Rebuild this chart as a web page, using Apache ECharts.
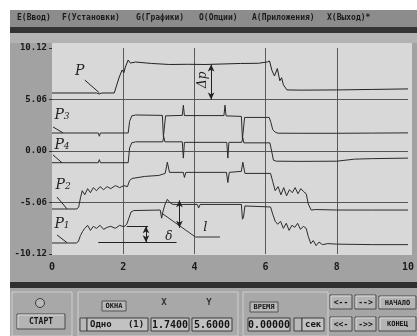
<!DOCTYPE html>
<html>
<head>
<meta charset="utf-8">
<script src="https://cdn.jsdelivr.net/npm/echarts@6/dist/echarts.min.js"></script>
<style>
html,body{margin:0;padding:0;background:#fff;}
#c{width:417px;height:336px;}
</style>
</head>
<body>
<div id="c"></div>
<script>
// Tick labels
const xTickLabels = ['0', '2', '4', '6', '8', '10'];
const yTickLabels = ['-10.12', '-5.06', '0.00', '5.06', '10.12'];

// P — line pressure (time, value)
const pTime  = [0, 1.25, 1.33, 1.4, 1.75, 1.82, 1.89, 1.94, 1.97, 2.02, 2.06, 2.1, 2.14, 2.2, 2.35, 2.8, 3.3, 3.8, 4.3, 4.8, 5.3, 5.8, 6.05, 6.11, 6.18, 6.25, 6.33, 6.4, 6.45, 6.5, 6.6, 7.0, 8.0, 9.0, 10];
const pValue = [5.70, 5.70, 5.60, 5.70, 5.70, 6.50, 7.27, 7.10, 7.96, 7.70, 8.25, 8.10, 8.94, 8.64, 8.74, 8.60, 8.50, 8.52, 8.50, 8.55, 8.60, 8.62, 8.75, 8.85, 7.90, 7.37, 8.10, 6.90, 7.20, 6.50, 6.00, 5.98, 6.00, 6.05, 6.10];

// P3
const p3Time  = [0, 1.30, 1.33, 1.36, 2.14, 2.18, 2.24, 2.35, 3.10, 3.13, 3.16, 3.19, 3.66, 3.69, 3.72, 4.83, 4.86, 4.89, 5.32, 5.35, 5.38, 5.41, 6.10, 6.15, 6.20, 6.27, 6.35, 7.0, 8.0, 9.0, 10];
const p3Value = [1.77, 1.77, 1.45, 1.77, 1.77, 2.9, 3.45, 3.54, 3.50, 1.40, 1.40, 3.45, 3.50, 4.50, 3.48, 3.48, 4.50, 3.45, 3.40, 1.20, 1.20, 3.30, 3.30, 2.80, 2.10, 1.85, 1.75, 1.74, 1.74, 1.76, 1.78];

// P4
const p4Time  = [0, 1.30, 1.33, 1.36, 2.14, 2.18, 2.24, 2.35, 3.11, 3.14, 3.17, 3.66, 3.69, 3.72, 4.91, 4.94, 4.97, 5.33, 5.36, 5.39, 6.12, 6.17, 6.22, 6.30, 7.0, 8.0, 8.5, 9.0, 10];
const p4Value = [-1.15, -1.15, -0.85, -1.15, -1.15, 0.3, 0.8, 0.9, 0.9, 1.4, 0.9, 0.9, -0.7, 0.85, 0.85, -0.7, 0.85, 0.85, 1.3, 0.8, 0.8, 0.0, -0.9, -1.0, -1.02, -1.0, -0.8, -0.75, -0.7];

// P2
const p2Time  = [0, 0.70, 0.75, 0.80, 0.85, 0.92, 1.00, 1.08, 1.16, 1.25, 1.35, 1.45, 1.55, 1.65, 1.78, 1.90, 2.02, 2.12, 2.18, 2.25, 2.6, 3.0, 3.18, 3.24, 3.30, 3.69, 3.72, 3.76, 4.90, 4.94, 4.98, 5.32, 5.36, 5.42, 6.14, 6.20, 6.27, 6.35, 6.43, 6.51, 6.59, 6.67, 6.75, 6.83, 6.91, 6.99, 7.07, 7.14, 7.20, 7.28, 7.40, 8.0, 9.0, 10];
const p2Value = [-5.7, -5.7, -5.5, -4.6, -3.9, -4.3, -3.7, -4.1, -3.6, -3.9, -3.5, -3.8, -3.5, -3.7, -3.4, -3.6, -3.4, -3.5, -2.9, -2.7, -2.5, -2.4, -2.2, -1.1, -2.1, -2.1, -2.6, -2.1, -2.1, -3.1, -2.1, -2.0, -1.1, -2.2, -2.2, -3.0, -3.9, -3.5, -4.3, -3.6, -4.4, -3.8, -4.1, -3.6, -4.2, -3.7, -4.0, -4.2, -5.2, -5.8, -5.75, -5.8, -5.8, -5.8];

// P1
const p1Time  = [0, 0.68, 0.74, 0.80, 0.86, 0.92, 1.00, 1.08, 1.16, 1.25, 1.35, 1.45, 1.55, 1.65, 1.78, 1.90, 2.02, 2.10, 2.16, 2.22, 2.30, 3.04, 3.08, 3.12, 3.18, 3.24, 3.32, 3.40, 4.08, 4.12, 4.16, 5.32, 5.35, 5.38, 5.42, 6.14, 6.20, 6.27, 6.34, 6.42, 6.50, 6.58, 6.66, 6.74, 6.82, 6.90, 6.98, 7.06, 7.14, 7.20, 7.27, 7.34, 7.42, 7.50, 7.60, 7.75, 8.0, 9.0, 10];
const p1Value = [-9.04, -9.04, -8.9, -8.3, -7.9, -7.6, -7.3, -7.8, -7.4, -7.6, -7.3, -7.7, -7.5, -7.4, -7.6, -7.3, -7.45, -7.2, -6.6, -6.0, -5.85, -5.80, -6.6, -5.9, -5.2, -4.75, -5.1, -5.25, -5.25, -5.6, -5.25, -5.25, -6.7, -6.5, -5.4, -5.5, -6.2, -6.9, -7.2, -6.9, -7.6, -7.1, -7.8, -7.3, -7.5, -7.1, -7.7, -7.4, -7.6, -8.4, -9.1, -8.8, -9.3, -8.95, -9.2, -9.1, -9.15, -9.2, -9.2];

// Auxiliary ramp marked "l"
const rampTime  = [3.08, 4.03, 4.72];
const rampValue = [-6.1, -8.45, -8.45];

const zip = (t, v) => t.map((x, i) => [x, v[i]]);

const INK = '#2b2b2b';
const MONO = '"DejaVu Sans Mono", monospace';

// ---------- curve labels and dimension marks (data coordinates) ----------
function curveLabel(coord, name, sub) {
  return {
    coord: coord, symbol: 'circle', symbolSize: 0,
    itemStyle: { color: 'rgba(0,0,0,0)' },
    label: {
      show: true, position: 'inside',
      formatter: sub ? '{p|' + name + '}{s|' + sub + '}' : '{p|' + name + '}',
      rich: {
        p: { fontFamily: '"DejaVu Serif", serif', fontStyle: 'italic', fontSize: 14, color: '#222', padding: [0, 0, 3, 0] },
        s: { fontFamily: '"DejaVu Serif", serif', fontStyle: 'italic', fontSize: 9, color: '#222' }
      }
    }
  };
}
function seg(a, b, arrows) {
  const s = arrows ? 'arrow' : 'none';
  return [{ coord: a, symbol: s }, { coord: b, symbol: s }];
}

const marks = {
  markPoint: {
    silent: true, animation: false,
    data: [
      curveLabel([0.78, 7.66], 'P'),
      curveLabel([0.28, 3.34], 'P', '3'),
      curveLabel([0.28, 0.39], 'P', '4'),
      curveLabel([0.31, -3.54], 'P', '2'),
      curveLabel([0.28, -7.37], 'P', '1'),
      {
        coord: [4.25, 7.0], symbol: 'circle', symbolSize: 0, itemStyle: { color: 'rgba(0,0,0,0)' },
        label: { show: true, position: 'inside', rotate: 90, formatter: 'Δp',
                 fontFamily: '"DejaVu Serif", serif', fontStyle: 'italic', fontSize: 12, color: '#222' }
      },
      {
        coord: [3.28, -8.4], symbol: 'circle', symbolSize: 0, itemStyle: { color: 'rgba(0,0,0,0)' },
        label: { show: true, position: 'inside', formatter: 'δ',
                 fontFamily: '"DejaVu Serif", serif', fontStyle: 'italic', fontSize: 12, color: '#222' }
      },
      {
        coord: [4.31, -7.5], symbol: 'circle', symbolSize: 0, itemStyle: { color: 'rgba(0,0,0,0)' },
        label: { show: true, position: 'inside', formatter: 'l',
                 fontFamily: '"DejaVu Serif", serif', fontStyle: 'italic', fontSize: 13, color: '#222' }
      }
    ]
  },
  markLine: {
    silent: true, animation: false,
    symbolSize: [5, 7],
    label: { show: false },
    lineStyle: { color: '#222', width: 1, type: 'solid' },
    emphasis: { disabled: true },
    data: [
      // leaders from labels to curves
      seg([0.92, 6.97], [1.33, 5.72]),
      seg([0.03, 2.36], [0.31, 1.78]),
      seg([0.03, -0.39], [0.28, -1.15]),
      seg([0.14, -4.52], [0.42, -5.68]),
      seg([0.14, -8.25], [0.42, -9.0]),
      // Δp
      seg([4.47, 8.5], [4.47, 5.06], true),
      // δ with extension lines
      seg([2.1, -7.4], [2.7, -7.4]),
      seg([1.3, -8.97], [3.5, -8.97]),
      seg([2.64, -7.4], [2.64, -8.97], true),
      // gap marker above the ramp
      seg([3.58, -4.85], [3.58, -7.55], true)
    ]
  }
};

// ---------- screen chrome ----------
const ui = [];
function box(x, y, w, h, fill, stroke) {
  ui.push({ type: 'rect', z: -10, silent: true, shape: { x: x, y: y, width: w, height: h },
            style: { fill: fill, stroke: stroke || null, lineWidth: 1 } });
}
function txt(x, y, text, size, align, color) {
  ui.push({ type: 'text', z: 20, silent: true, x: x, y: y,
            style: { text: text, fill: color || '#151515', font: 'bold ' + (size || 9) + 'px ' + MONO,
                     textAlign: align || 'left', textVerticalAlign: 'middle',
                     align: align || 'left', verticalAlign: 'middle' } });
}
function button(x, y, w, h, label, size) {
  box(x, y, w, h, '#b4b4b4', '#4a4a4a');
  ui.push({ type: 'polyline', z: -9, silent: true,
            shape: { points: [[x + 1, y + h - 1], [x + 1, y + 1], [x + w - 1, y + 1]] },
            style: { stroke: '#dedede', lineWidth: 1, fill: null } });
  txt(x + w / 2, y + h / 2 + 0.5, label, size || 8, 'center');
}
function field(x, y, w, h, label, align) {
  box(x, y, w, h, '#c2c2c2', '#3c3c3c');
  if (align === 'left') txt(x + 3, y + h / 2 + 0.5, label, 9, 'left');
  else txt(x + w / 2, y + h / 2 + 0.5, label, 10, 'center');
}

// outer frame and plotting field
box(10, 10, 407, 326, '#a2a2a2');
box(10, 10, 407, 17, '#8c8c8c');
box(10, 27, 407, 6, '#343434');
box(10, 33, 407, 10, '#b3b3b3');
box(52, 43, 360, 212, '#d8d8d8');
box(10, 282, 407, 6, '#2f2f2f');
box(10, 288, 407, 48, '#a6a6a6');

// menu line
[['Е(Ввод)', 17], ['F(Установки)', 62], ['G(Графики)', 136], ['О(Опции)', 199],
 ['А(Приложения)', 252], ['Х(Выход)*', 327]].forEach(m => txt(m[1], 18, m[0], 8, 'left', '#1a1a1a'));

// bottom control panels
box(12, 292, 60, 44, '#a8a8a8', '#cfcfcf');
ui.push({ type: 'circle', z: 5, silent: true, shape: { cx: 40, cy: 303, r: 4.5 },
          style: { fill: '#b8b8b8', stroke: '#3a3a3a', lineWidth: 1 } });
button(17, 314, 48, 15, 'СТАРТ', 8);

box(78, 292, 160, 44, '#a8a8a8', '#cfcfcf');
box(102, 301, 24, 10, '#b8b8b8', '#555');
txt(114, 306.5, 'ОКНА', 7, 'center');
txt(164, 303, 'X', 9, 'center', '#333');
txt(209, 303, 'Y', 9, 'center', '#333');
box(80, 318, 7, 13, '#b8b8b8', '#444');
field(87, 318, 61, 13, 'Одно   (1)', 'left');
field(151, 318, 38, 13, '1.7400');
field(192, 318, 40, 13, '5.6000');

box(243, 292, 85, 44, '#a8a8a8', '#cfcfcf');
box(250, 302, 28, 10, '#b8b8b8', '#555');
txt(264, 307.5, 'ВРЕМЯ', 7, 'center');
field(248, 318, 42, 13, '0.00000');
box(294, 318, 8, 13, '#b8b8b8', '#444');
field(302, 318, 22, 13, 'сек', 'left');

button(330, 295, 22, 14, '<--', 8);
button(355, 295, 21, 14, '-->', 8);
button(330, 317, 22, 14, '<<-', 8);
button(355, 317, 21, 14, '->>', 8);
button(379, 296, 37, 13, 'НАЧАЛО', 7);
button(379, 317, 37, 14, 'КОНЕЦ', 7);

// ---------- chart ----------
const lineSeries = (name, t, v, color, extra) => Object.assign({
  name: name, type: 'line', data: zip(t, v), symbol: 'none', silent: true,
  lineStyle: { color: color, width: 1 }, z: 3, animation: false
}, extra || {});

const chart = echarts.init(document.getElementById('c'), null, { renderer: 'canvas' });
chart.setOption({
  animation: false,
  backgroundColor: '#ffffff',
  grid: { left: 52, right: 5, top: 48, bottom: 82, containLabel: false },
  xAxis: {
    type: 'value', min: 0, max: 10, interval: 2,
    axisLine: { show: false },
    axisTick: { show: false },
    axisLabel: {
      margin: 8, fontSize: 10, fontWeight: 'bold', fontFamily: MONO, color: '#1a1a1a',
      formatter: (v, i) => xTickLabels[i]
    },
    splitLine: { show: true, lineStyle: { width: 1, color: ['rgba(0,0,0,0)', '#5a5a5a', '#5a5a5a', '#5a5a5a', '#5a5a5a', 'rgba(0,0,0,0)'] } }
  },
  yAxis: {
    type: 'value', min: -10.12, max: 10.12, interval: 5.06,
    axisLine: { show: false },
    axisTick: { show: true, length: 3, lineStyle: { color: '#333' } },
    axisLabel: {
      margin: 5, fontSize: 9, fontWeight: 'bold', fontFamily: MONO, color: '#1a1a1a',
      formatter: (v, i) => yTickLabels[i]
    },
    splitLine: { show: true, lineStyle: { width: 1, color: ['rgba(0,0,0,0)', '#555', '#555', '#555', 'rgba(0,0,0,0)'] } }
  },
  graphic: { elements: ui },
  series: [
    lineSeries('P', pTime, pValue, '#222', marks),
    lineSeries('P3', p3Time, p3Value, INK),
    lineSeries('P4', p4Time, p4Value, INK),
    lineSeries('P2', p2Time, p2Value, INK),
    lineSeries('P1', p1Time, p1Value, INK),
    lineSeries('l', rampTime, rampValue, '#333')
  ]
});
</script>
</body>
</html>
